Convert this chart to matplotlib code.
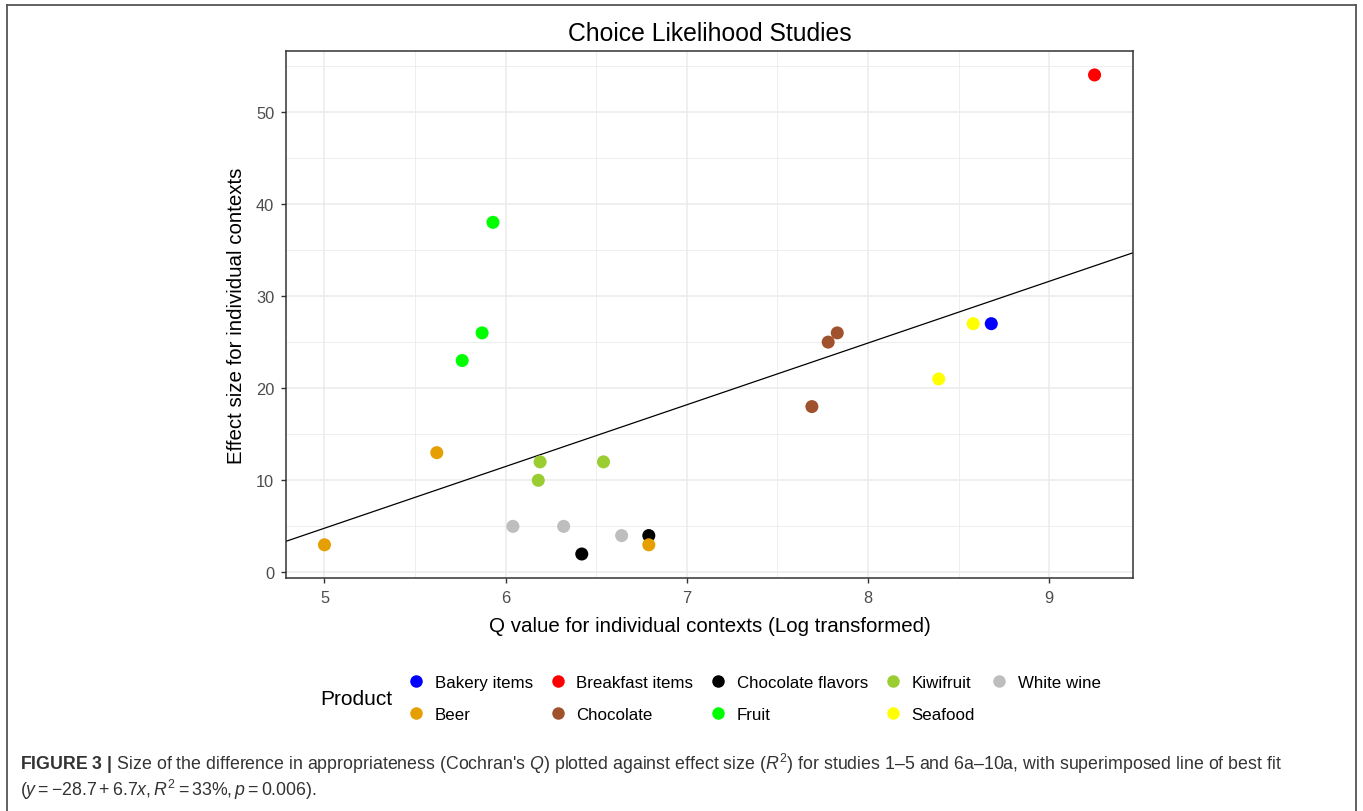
import numpy as np
import matplotlib
matplotlib.use("Agg")
import matplotlib.pyplot as plt
from matplotlib.lines import Line2D

plt.rcParams["font.family"] = ["Liberation Sans", "DejaVu Sans"]
plt.rcParams["mathtext.fontset"] = "custom"
plt.rcParams["mathtext.rm"] = "Liberation Sans"
plt.rcParams["mathtext.it"] = "Liberation Sans:italic"
plt.rcParams["mathtext.bf"] = "Liberation Sans:bold"

# legend order (alphabetical, as ggplot draws it)
PRODUCTS = ["Bakery items", "Beer", "Breakfast items", "Chocolate",
            "Chocolate flavors", "Fruit", "Kiwifruit", "Seafood", "White wine"]
COLORS = ["#0000FF", "#E69F00", "#FF0000", "#A0522D",
          "#000000", "#00FF00", "#9ACD32", "#FFFF00", "#BEBEBE"]

# one row per study context
product = ["Fruit", "Fruit", "Fruit", "Beer", "Kiwifruit", "Kiwifruit", "Kiwifruit",
           "White wine", "White wine", "White wine", "Chocolate flavors", "Chocolate flavors",
           "Beer", "Beer", "Chocolate", "Chocolate", "Chocolate", "Seafood", "Seafood",
           "Bakery items", "Breakfast items"]
q_log = [5.93, 5.87, 5.76, 5.62, 6.19, 6.18, 6.54,
         6.04, 6.32, 6.64, 6.42, 6.79,
         5.00, 6.79, 7.69, 7.78, 7.83, 8.39, 8.58,
         8.68, 9.25]
effect = [38, 26, 23, 13, 12, 10, 12,
          5, 5, 4, 2, 4,
          3, 3, 18, 25, 26, 21, 27,
          27, 54]

# line of best fit from the caption
INTERCEPT, SLOPE = -28.7, 6.7

pal = dict(zip(PRODUCTS, COLORS))

fig = plt.figure(figsize=(13.63, 8.12), dpi=100)
ax = fig.add_axes([0.2098, 0.2870, 0.6215, 0.6490])

x = np.array(q_log)
y = np.array(effect)
ax.scatter(x, y, c=[pal[p] for p in product], s=88, linewidths=0, zorder=3)

xr = x.max() - x.min()
yr = y.max() - y.min()
xlim = (x.min() - 0.05 * xr, x.max() + 0.05 * xr)
ylim = (y.min() - 0.05 * yr, y.max() + 0.05 * yr)
xs = np.array(xlim)
ax.plot(xs, INTERCEPT + SLOPE * xs, color="black", lw=0.9, zorder=2)
ax.set_xlim(xlim)
ax.set_ylim(ylim)

ax.set_xticks([5, 6, 7, 8, 9])
ax.set_yticks([0, 10, 20, 30, 40, 50])
ax.set_xticks([5.5, 6.5, 7.5, 8.5], minor=True)
ax.set_yticks([5, 15, 25, 35, 45, 55], minor=True)
ax.grid(which="major", color="#EBEBEB", lw=1.1)
ax.grid(which="minor", color="#EBEBEB", lw=0.6)
ax.set_axisbelow(True)
for s in ax.spines.values():
    s.set_color("#333333")
    s.set_linewidth(1.1)
ax.tick_params(which="major", length=3.5, width=1.0, color="#333333",
               labelcolor="#4D4D4D", labelsize=11.8, pad=5)
ax.tick_params(which="minor", length=0)

ax.set_title("Choice Likelihood Studies", fontsize=17.8, color="black", pad=8)
ax.set_xlabel("Q value for individual contexts (Log transformed)", fontsize=14.8, labelpad=8)
ax.set_ylabel("Effect size for individual contexts", fontsize=14.8, labelpad=7)

handles = [Line2D([], [], ls="", marker="o", markersize=9, markeredgewidth=0,
                  markerfacecolor=pal[p]) for p in PRODUCTS]
fig.legend(handles, PRODUCTS, ncol=5, loc="center left", bbox_to_anchor=(0.2979, 0.139),
           frameon=False, fontsize=12.2, handletextpad=0.5, columnspacing=0.86,
           labelspacing=1.0, handlelength=1.2, borderaxespad=0, borderpad=0)
fig.text(0.2348, 0.138, "Product", fontsize=15, va="center", ha="left")

# caption below the plot
fig.text(0.0147, 0.059, r"$\mathbf{FIGURE\ 3\ |}$ Size of the difference in appropriateness "
         r"(Cochran's $Q$) plotted against effect size ($R^2$) for studies 1–5 and 6a–10a, "
         "with superimposed line of best fit",
         fontsize=12.75, color="#333333", va="center", ha="left")
fig.text(0.0147, 0.027, r"($y = -28.7 + 6.7x, R^2 = 33\%, p = 0.006$).",
         fontsize=12.75, color="#333333", va="center", ha="left")

# outer panel frame
fc = "#555555"
fig.add_artist(Line2D([0.0051, 0.0051], [0.0, 0.9926], color=fc, lw=1.3, transform=fig.transFigure))
fig.add_artist(Line2D([0.9949, 0.9949], [0.0, 0.9926], color=fc, lw=1.3, transform=fig.transFigure))
fig.add_artist(Line2D([0.0051, 0.9949], [0.9926, 0.9926], color=fc, lw=1.3, transform=fig.transFigure))

fig.savefig("out.png", dpi=100)
